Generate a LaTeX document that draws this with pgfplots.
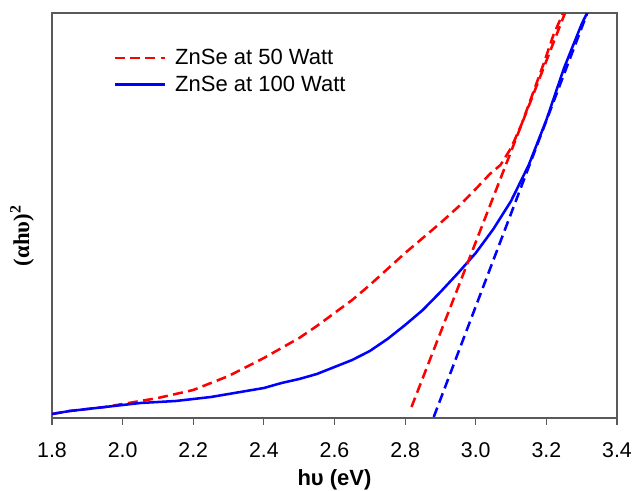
\documentclass[border=0pt]{standalone}
\usepackage{fontspec}
\setmainfont{Liberation Sans}
\newfontfamily\seriffont{Liberation Serif}
\usepackage{pgfplots}
\pgfplotsset{compat=1.18}

% ZnSe Tauc plot, 50 W and 100 W, y in arbitrary units
\pgfplotstableread{
x y
1.80 4
1.85 7
1.90 9
1.95 11
2.00 14
2.05 17
2.10 20
2.15 24
2.20 28
2.25 35
2.30 42
2.35 51
2.40 60
2.45 70
2.50 80
2.55 92
2.60 105
2.65 118
2.70 133
2.75 149
2.80 165
2.85 180
2.90 195
2.95 211
3.00 229
3.04 244
3.07 253
3.10 270
3.13 294
3.16 323
3.19 352
3.22 383
3.25 407
}\watta

\pgfplotstableread{
x y
1.80 4
1.85 7
1.90 9
1.95 11
2.00 13
2.05 15
2.10 16
2.15 17
2.20 19
2.25 21
2.30 24
2.35 27
2.40 30
2.45 35
2.50 39
2.55 44
2.60 51
2.65 58
2.70 67
2.75 79
2.80 93
2.85 108
2.90 126
2.95 145
3.00 165
3.05 189
3.10 217
3.15 253
3.20 298
3.25 350
3.30 394
3.318 407
}\wattb

\definecolor{framegray}{RGB}{90,90,90}

\begin{document}
\begin{tikzpicture}
\begin{axis}[
    name=ax,
    scale only axis,
    width=423.75pt, height=303.75pt,
    xmin=1.8, xmax=3.4, ymin=0, ymax=405,
    xtick={1.8,2.0,2.2,2.4,2.6,2.8,3.0,3.2,3.4},
    ytick=\empty,
    xtick pos=lower,
    tick align=outside,
    major tick length=5pt,
    axis line style={draw=framegray, line width=0.9pt},
    tick style={draw=framegray, line width=0.9pt},
    /pgf/number format/assume math mode=true,
    xticklabel style={font=\fontsize{16}{19}\selectfont, yshift=-10pt,
        /pgf/number format/.cd, fixed, fixed zerofill, precision=1},
    xlabel={hυ (eV)},
    xlabel style={font=\fontsize{16.5}{19}\selectfont\bfseries,
        at={(axis description cs:0.5,-0.153)}, anchor=center},
    ylabel={\seriffont\bfseries (αhυ)\textsuperscript{2}},
    ylabel style={font=\fontsize{17}{20}\selectfont,
        at={(axis description cs:-0.053,0.45)}, anchor=center},
    legend style={at={(axis description cs:0.108,0.918)}, anchor=north west,
        draw=none, fill=none, inner sep=0pt, row sep=3pt,
        font=\fontsize{16.5}{19}\selectfont,
        /tikz/every odd column/.append style={column sep=5pt}},
    legend cell align=left,
    legend image code/.code={\draw[#1] (0pt,0pt) -- (37.5pt,0pt);},
]
\addplot[red, line width=1.9pt, dash pattern=on 7.5pt off 4pt] table[x=x, y=y] {\watta};
\addlegendentry{ZnSe at 50 Watt}
\addplot[blue, line width=1.9pt] table[x=x, y=y] {\wattb};
\addlegendentry{ZnSe at 100 Watt}
% linear fits, extrapolated to the x axis
\addplot[red, line width=1.9pt, dash pattern=on 7.5pt off 4pt, forget plot]
    coordinates {(2.818,11) (3.255,407)};
\addplot[blue, line width=1.9pt, dash pattern=on 7.5pt off 4pt, forget plot]
    coordinates {(2.881,1) (3.318,407)};
\end{axis}
\pgfresetboundingbox
\path[use as bounding box] ([shift={(-39pt,-54pt)}]ax.south west)
    rectangle ([shift={(12pt,9.75pt)}]ax.north east);
\end{tikzpicture}
\end{document}
